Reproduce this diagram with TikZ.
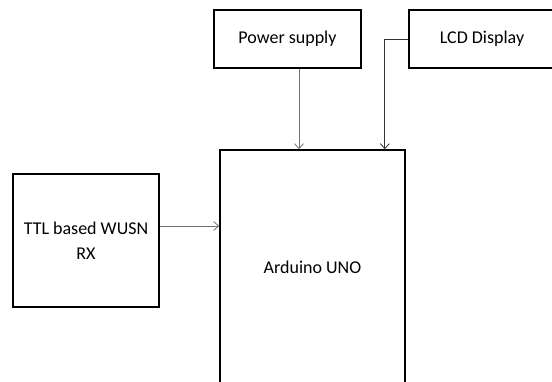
\documentclass[tikz,border=0pt]{standalone}
\usepackage{fontspec}
\setmainfont{Carlito}
\usetikzlibrary{arrows.meta,positioning}

\begin{document}
\begin{tikzpicture}[x=1pt,y=-1pt,>={Straight Barb[length=5pt,width=9pt]},
    block/.style={draw,line width=1.6pt,align=center,inner sep=2pt,
      font=\fontsize{18}{25}\selectfont},
    link/.style={->,draw=black!55,line width=0.8pt}]

      \useasboundingbox (0,0) rectangle (552,382);
      \clip (0,0) rectangle (552,382);

      \node[block,minimum width=147,minimum height=58]	(power) at (287.5,39) {Power supply};
      \node[block,minimum width=146,minimum height=58]	(lcd)   at (482,39)   {LCD Display};
      \node[block,minimum width=185,minimum height=234]	(uno)   at (312.5,267) {Arduino UNO};
      \node[block,minimum width=146,minimum height=133]	(ttl)   at (86,240.5)  {TTL based WUSN\\RX};

      \draw[link] ([xshift=11.5pt]power.south) -- ([xshift=11.5pt]power.south |- uno.north);
      \draw[link,draw=black!80] (lcd.west) -| ([xshift=-21pt]uno.north east);
      \draw[link] ([yshift=14.5pt]ttl.east) -- ([yshift=14.5pt]ttl.east -| uno.west);
    \end{tikzpicture}
\end{document}
